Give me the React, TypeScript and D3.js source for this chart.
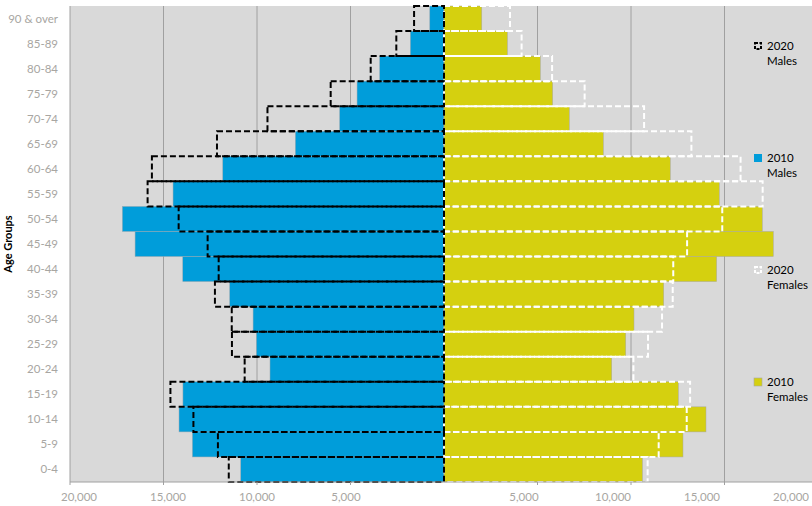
import React from 'react';
import * as d3 from 'd3';

const ageGroups = ['0-4', '5-9', '10-14', '15-19', '20-24', '25-29', '30-34', '35-39', '40-44', '45-49', '50-54', '55-59', '60-64', '65-69', '70-74', '75-79', '80-84', '85-89', '90 & over'];
const males2010 = [10870, 13455, 14170, 13960, 9305, 10030, 10210, 11460, 13970, 16520, 17200, 14490, 11830, 7950, 5580, 4650, 3440, 1800, 760];
const males2020 = [11510, 12090, 13400, 14630, 10660, 11340, 11350, 12250, 12050, 12640, 14190, 15850, 15620, 12140, 9440, 6060, 3920, 2550, 1600];
const females2010 = [10610, 12780, 14010, 12530, 8970, 9720, 10160, 11750, 14580, 17610, 17020, 14720, 12100, 8520, 6700, 5810, 5150, 3390, 2020];
const females2020 = [10890, 11480, 12980, 13160, 10130, 10910, 11660, 12230, 12260, 13000, 14880, 17040, 15860, 13230, 10700, 7520, 5780, 4150, 3530];
const xTickValues = [-20000, -15000, -10000, -5000, 5000, 10000, 15000, 20000];
const gridValues = [-15000, -10000, -5000, 5000, 10000, 15000, 20000];
const legendItems = [
  { line1: '2020', line2: 'Males', kind: 'm2020' },
  { line1: '2010', line2: 'Males', kind: 'm2010' },
  { line1: '2020', line2: 'Females', kind: 'f2020' },
  { line1: '2010', line2: 'Females', kind: 'f2010' },
];

const W = 812, H = 506;
const plotLeft = 70, plotTop = 6, plotBottom = 482;
const BLUE = '#009dda';
const YELLOW = '#d5d00f';
const BG = '#d9d9d9';
const GRID = '#a0a0a0';
const LABEL = '#a8a6a2';
const FONT = 'Lato, "Open Sans", sans-serif';

export default function App() {
  const x = d3.scaleLinear().domain([-20000, 20000]).range([plotLeft, plotLeft + 748]);
  const xLabel = d3.scaleLinear().domain([-20000, 20000]).range([79, 791]);
  const y = d3.scaleBand<string>().domain(ageGroups).range([plotBottom, plotTop]).paddingInner(0).paddingOuter(0);
  const bw = y.bandwidth();
  const x0 = x(0);
  const legendY = d3.scalePoint<string>().domain(legendItems.map((d, i) => String(i))).range([46, 382]);

  return (
    <svg width={W} height={H} style={{ position: 'absolute', left: 0, top: 0, background: '#fff' }} fontFamily={FONT}>
      <rect x={plotLeft} y={plotTop} width={W - plotLeft} height={plotBottom - plotTop} fill={BG} />
      {gridValues.map((v) => (
        <line key={'g' + v} x1={x(v)} x2={x(v)} y1={plotTop} y2={plotBottom} stroke={GRID} strokeWidth={1} />
      ))}
      {/* 2010 males */}
      {ageGroups.map((g, i) => (
        <rect key={'m10' + g} x={x(-males2010[i])} y={y(g)} width={x0 - x(-males2010[i])} height={bw} fill={BLUE} stroke="#9aa8b0" strokeWidth={0.5} />
      ))}
      {/* 2010 females */}
      {ageGroups.map((g, i) => (
        <rect key={'f10' + g} x={x0} y={y(g)} width={x(females2010[i]) - x0} height={bw} fill={YELLOW} stroke="#a8a8a0" strokeWidth={0.5} />
      ))}
      {/* 2020 females outlines */}
      {ageGroups.map((g, i) => (
        <rect key={'f20' + g} x={x0} y={y(g)} width={x(females2020[i]) - x0} height={bw} fill="none" stroke="#ffffff" strokeWidth={2} strokeDasharray="6,3" />
      ))}
      {/* 2020 males outlines */}
      {ageGroups.map((g, i) => (
        <rect key={'m20' + g} x={x(-males2020[i])} y={y(g)} width={x0 - x(-males2020[i])} height={bw} fill="none" stroke="#000000" strokeWidth={2} strokeDasharray="6,3" />
      ))}
      {/* axes */}
      <line x1={plotLeft} x2={W} y1={plotBottom} y2={plotBottom} stroke={GRID} strokeWidth={1} />
      <line x1={plotLeft} x2={plotLeft} y1={plotTop} y2={plotBottom} stroke={GRID} strokeWidth={1} />
      {[-20000, ...gridValues].map((v) => (
        <line key={'t' + v} x1={x(v)} x2={x(v)} y1={plotBottom} y2={plotBottom + 3} stroke={GRID} strokeWidth={1} />
      ))}
      {xTickValues.map((v) => (
        <text key={'xl' + v} x={xLabel(v)} y={501} textAnchor="middle" fontSize={11.5} fill={LABEL}>
          {d3.format(',')(Math.abs(v))}
        </text>
      ))}
      {ageGroups.map((g) => (
        <text key={'yl' + g} x={58} y={(y(g) as number) + bw / 2} dy="0.35em" textAnchor="end" fontSize={11.5} fill={LABEL}>
          {g}
        </text>
      ))}
      <text transform="translate(12,244) rotate(-90)" textAnchor="middle" fontSize={11} fontWeight="bold" fill="#000">
        Age Groups
      </text>
      {/* legend */}
      {legendItems.map((d, i) => {
        const cy = legendY(String(i)) as number;
        let sym;
        if (d.kind === 'm2020') sym = <rect x={755} y={cy - 3} width={6} height={6} fill="none" stroke="#000" strokeWidth={2} strokeDasharray="3,1.5" />;
        else if (d.kind === 'f2020') sym = <rect x={755} y={cy - 3} width={6} height={6} fill="none" stroke="#fff" strokeWidth={2} strokeDasharray="3,1.5" />;
        else if (d.kind === 'm2010') sym = <rect x={754} y={cy - 4} width={8} height={8} fill={BLUE} />;
        else sym = <rect x={754} y={cy - 4} width={8} height={8} fill={YELLOW} stroke="#a8a8a0" strokeWidth={0.6} />;
        return (
          <g key={'lg' + i}>
            {sym}
            <text x={767} y={cy} dy="0.35em" fontSize={11.5} fill="#000">{d.line1}</text>
            <text x={767} y={cy + 15} dy="0.35em" fontSize={11.5} fill="#000">{d.line2}</text>
          </g>
        );
      })}
    </svg>
  );
}
